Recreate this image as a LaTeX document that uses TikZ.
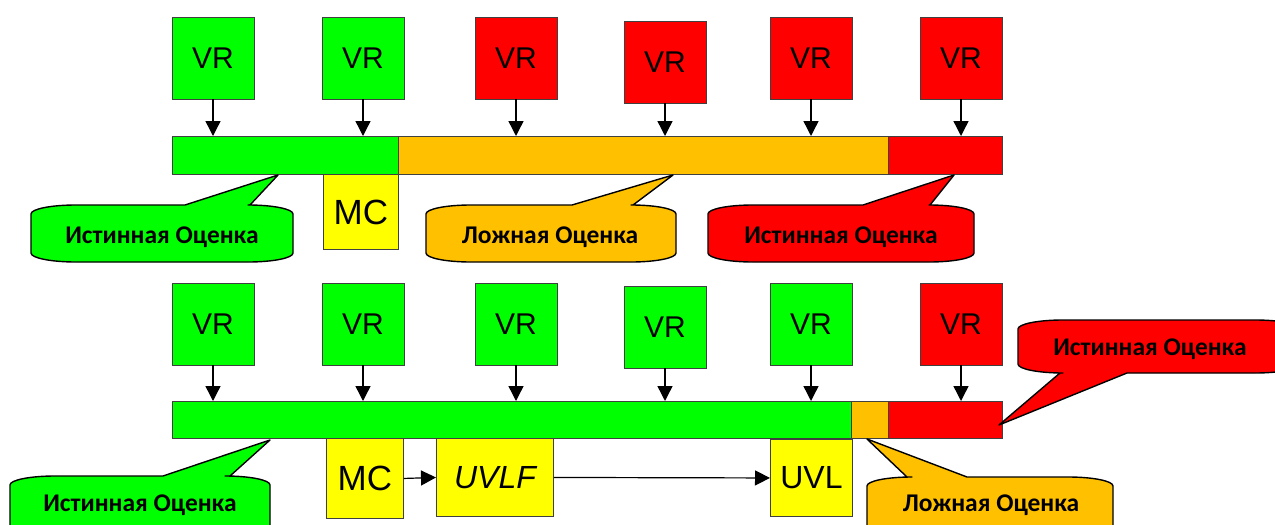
\documentclass[tikz,border=0pt]{standalone}
\usepackage{fontspec}
\setmainfont{Liberation Sans}
\newfontfamily\calfont{Carlito}
\usetikzlibrary{arrows.meta}
\definecolor{cgreen}{HTML}{00FF00}
\definecolor{corange}{HTML}{FFC000}
\definecolor{cred}{HTML}{FF0000}
\definecolor{cyellow}{HTML}{FFFF00}
\definecolor{edge}{HTML}{404040}
% speech bubble with the tail leaving the top edge: style, x1, y1, x2, y2, tail base left, tail base right, tail tip
\newcommand\bubbleup[8]{%
  \draw[#1] (#2,{#3+9}) .. controls (#2,{#3+4}) and ({#2+20},#3) .. ({#2+45},#3)
    -- (#6,#3) -- (#8) -- (#7,#3) -- ({#4-45},#3)
    .. controls ({#4-20},#3) and (#4,{#3+4}) .. (#4,{#3+9})
    -- (#4,{#5-9}) .. controls (#4,{#5-4}) and ({#4-20},#5) .. ({#4-45},#5)
    -- ({#2+45},#5) .. controls ({#2+20},#5) and (#2,{#5-4}) .. (#2,{#5-9}) -- cycle;}
% speech bubble with the tail leaving the bottom edge
\newcommand\bubbledown[8]{%
  \draw[#1] (#2,{#3+9}) .. controls (#2,{#3+4}) and ({#2+20},#3) .. ({#2+45},#3)
    -- ({#4-45},#3) .. controls ({#4-20},#3) and (#4,{#3+4}) .. (#4,{#3+9})
    -- (#4,{#5-9}) .. controls (#4,{#5-4}) and ({#4-20},#5) .. ({#4-45},#5)
    -- (#7,#5) -- (#8) -- (#6,#5)
    -- ({#2+45},#5) .. controls ({#2+20},#5) and (#2,{#5-4}) .. (#2,{#5-9}) -- cycle;}
\tikzset{
  vrbox/.style={draw=edge, line width=0.9pt, minimum width=82, minimum height=82,
    inner sep=0pt, font=\fontsize{30}{36}\selectfont},
  seg/.style={draw=edge, line width=0.9pt, anchor=north west, inner sep=0pt},
  ybox/.style={draw=edge, line width=0.9pt, fill=cyellow, anchor=north west, inner sep=0pt,
    font=\fontsize{32}{38}\selectfont},
  bubble/.style={draw=black, line width=1.4pt, line join=round},
  btext/.style={font=\calfont\bfseries\fontsize{25.5}{30}\selectfont, inner sep=0pt},
  arr/.style={-{Triangle[width=15pt,length=15pt]}, line width=1.4pt, black},
}
\begin{document}
\begin{tikzpicture}[x=1pt,y=-1pt]
\useasboundingbox (0,0) rectangle (1275,525);
\clip (0,0) rectangle (1275,525);
\fill[white] (0,0) rectangle (1275,525);

% ---------- upper row ----------
\node[seg, fill=cgreen, minimum width=226, minimum height=38] (ag) at (172,136) {};
\node[seg, fill=corange, minimum width=490, minimum height=38] (ao) at (398,136) {};
\node[seg, fill=cred, minimum width=114, minimum height=38] (ar) at (888,136) {};

\node[vrbox, fill=cgreen] (a1) at (213,58) {VR};
\node[vrbox, fill=cgreen] (a2) at (363,58) {VR};
\node[vrbox, fill=cred] (a3) at (516,58) {VR};
\node[vrbox, fill=cred] (a4) at (665,62) {VR};
\node[vrbox, fill=cred] (a5) at (811,58) {VR};
\node[vrbox, fill=cred] (a6) at (961,58) {VR};
\foreach \b in {a1,a2,a3,a4,a5,a6}
  \draw[arr] (\b.south) -- (\b.south |- ag.north);

\node[ybox, minimum width=75, minimum height=75, font=\fontsize{35}{40}\selectfont] (amc) at (323,174) {MC};

\coordinate (ta1) at (278,175);
\coordinate (ta2) at (673,175);
\coordinate (ta3) at (954,175);
\bubbleup{bubble, fill=cgreen}{31}{205}{293}{262}{185}{250}{ta1}
\bubbleup{bubble, fill=corange}{426}{205}{676}{262}{572}{633}{ta2}
\bubbleup{bubble, fill=cred}{708}{205}{974}{262}{863}{930}{ta3}
\node[btext] (la1) at (162,237) {Истинная Оценка};
\node[btext] (la2) at (550,237) {Ложная Оценка};
\node[btext] (la3) at (841,237) {Истинная Оценка};

% ---------- lower row ----------
\node[seg, fill=cgreen, minimum width=679, minimum height=37] (bg) at (172,401) {};
\node[seg, fill=corange, minimum width=37, minimum height=37] (bo) at (851,401) {};
\node[seg, fill=cred, minimum width=114, minimum height=37] (br) at (888,401) {};

\node[vrbox, fill=cgreen] (b1) at (213,324) {VR};
\node[vrbox, fill=cgreen] (b2) at (363,324) {VR};
\node[vrbox, fill=cgreen] (b3) at (516,324) {VR};
\node[vrbox, fill=cgreen] (b4) at (665,327) {VR};
\node[vrbox, fill=cgreen] (b5) at (811,324) {VR};
\node[vrbox, fill=cred] (b6) at (961,324) {VR};
\foreach \b in {b1,b2,b3,b4,b5,b6}
  \draw[arr] (\b.south) -- (\b.south |- bg.north);

\node[ybox, minimum width=77, minimum height=80, font=\fontsize{35}{40}\selectfont] (bmc) at (326,438) {MC};
\node[ybox, minimum width=117, minimum height=78, font=\fontsize{32}{38}\selectfont\itshape] (buvlf) at (436,438) {UVLF};
\node[ybox, minimum width=82, minimum height=77] (buvl) at (770,439) {UVL};
\draw[arr, line width=1.2pt] (bmc.east) -- (buvlf.west);
\draw[arr, line width=1.2pt] (buvlf.east) -- (buvl.west);

\coordinate (tb1) at (270,440);
\coordinate (tb2) at (867,439);
\coordinate (tb3) at (999,425);
\bubbleup{bubble, fill=cgreen}{10}{476}{270}{545}{163}{230}{tb1}
\bubbleup{bubble, fill=corange}{867}{477}{1113}{545}{907}{967}{tb2}
\bubbledown{bubble, fill=cred}{1018}{320}{1300}{373}{1060}{1127}{tb3}
\node[btext] (lb1) at (140,505) {Истинная Оценка};
\node[btext] (lb2) at (991,505) {Ложная Оценка};
\node[btext] (lb3) at (1150,349) {Истинная Оценка};
\end{tikzpicture}
\end{document}
